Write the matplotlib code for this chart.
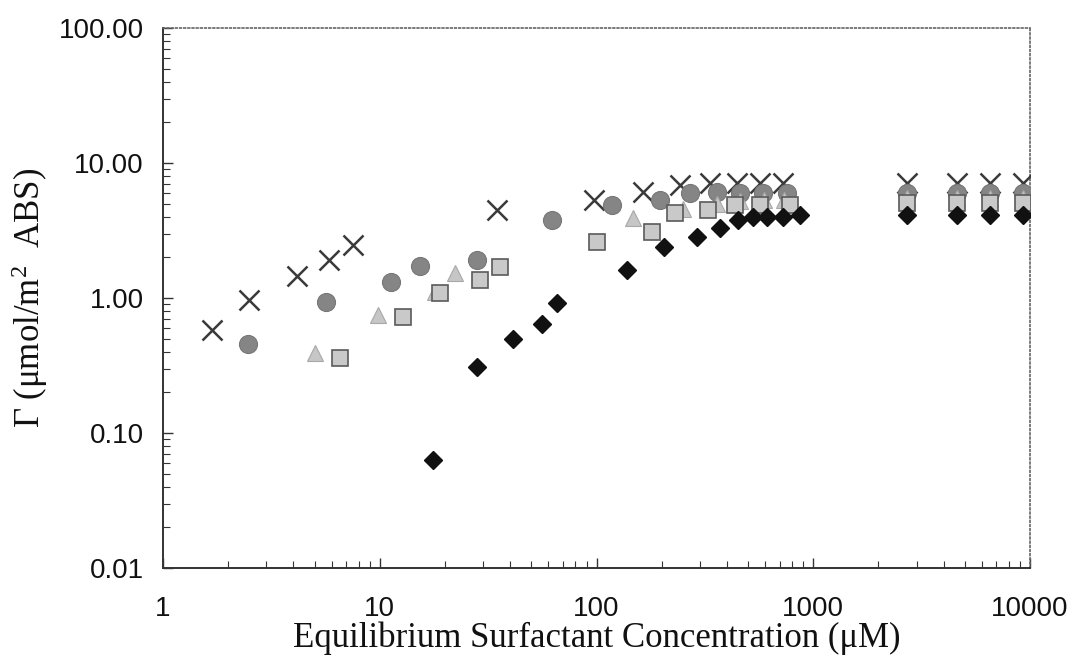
import matplotlib
matplotlib.use("Agg")
import matplotlib.pyplot as plt
from matplotlib.ticker import LogLocator, FixedLocator, NullFormatter, FixedFormatter

plt.rcParams["mathtext.fontset"] = "custom"
plt.rcParams["mathtext.rm"] = "Liberation Serif"
plt.rcParams["mathtext.it"] = "Liberation Serif:italic"

# ---- data ----
cross_x = [1.68, 2.49, 4.15, 5.84, 7.53, 34.8, 97, 164, 243, 334, 445, 569, 726, 2710, 4600, 6550, 9300]
cross_y = [0.58, 0.97, 1.46, 1.91, 2.47, 4.5, 5.3, 6.1, 6.9, 7.1, 7.1, 7.1, 7.1, 7.1, 7.1, 7.1, 7.1]

circle_x = [2.47, 5.65, 11.3, 15.3, 28.1, 62.4, 118, 197, 270, 360, 460, 587, 758, 2710, 4600, 6550, 9300]
circle_y = [0.46, 0.93, 1.31, 1.73, 1.91, 3.78, 4.9, 5.3, 6.0, 6.1, 6.0, 6.0, 6.0, 6.0, 6.0, 6.0, 6.0]

tri_x = [5.03, 9.82, 18.0, 22.3, 147, 250, 360, 460, 590, 730, 2710, 4600, 6550, 9300]
tri_y = [0.39, 0.75, 1.11, 1.53, 3.9, 4.6, 5.0, 5.2, 5.3, 5.3, 5.5, 5.5, 5.5, 5.5]

sq_x = [6.56, 12.8, 19.0, 29.0, 35.9, 100, 180, 230, 327, 435, 569, 780, 2710, 4600, 6550, 9300]
sq_y = [0.36, 0.72, 1.09, 1.36, 1.70, 2.6, 3.08, 4.26, 4.5, 4.9, 4.9, 4.9, 5.06, 5.06, 5.06, 5.06]

dia_x = [17.6, 28.1, 41.2, 56.1, 65.8, 138, 205, 291, 372, 450, 528, 612, 726, 870, 2710, 4600, 6550, 9300]
dia_y = [0.063, 0.31, 0.50, 0.64, 0.92, 1.61, 2.39, 2.83, 3.3, 3.78, 3.98, 3.98, 4.0, 4.1, 4.1, 4.1, 4.1, 4.1]

x_ticks = [1, 10, 100, 1000, 10000]
x_tick_labels = ["1", "10", "100", "1000", "10000"]
y_ticks = [0.01, 0.1, 1, 10, 100]
y_tick_labels = ["0.01", "0.10", "1.00", "10.00", "100.00"]

fig = plt.figure(figsize=(10.7, 6.63), dpi=100)
ax = fig.add_axes([163/1070, 1-568/663, (1030-163)/1070, (568-28)/663])

ax.plot(cross_x, cross_y, linestyle="none", marker="x", markersize=14,
        markeredgewidth=1.8, color="#3a3a3a", zorder=3)
ax.plot(circle_x, circle_y, linestyle="none", marker="o", markersize=13,
        markerfacecolor="#858585", markeredgecolor="#777777", markeredgewidth=0.8, zorder=4)
ax.plot(tri_x, tri_y, linestyle="none", marker="^", markersize=12,
        markerfacecolor="#c6c6c6", markeredgecolor="#a8a8a8", markeredgewidth=0.8, zorder=5)
ax.plot(sq_x, sq_y, linestyle="none", marker="s", markersize=11.5,
        markerfacecolor="#c9c9c9", markeredgecolor="#5a5a5a", markeredgewidth=1.2, zorder=6)
ax.plot(dia_x, dia_y, linestyle="none", marker="D", markersize=9.5,
        color="#111111", zorder=7)

ax.set_xscale("log")
ax.set_yscale("log")
ax.set_xlim(1, 10000)
ax.set_ylim(0.01, 100)

ax.xaxis.set_major_locator(FixedLocator(x_ticks))
ax.xaxis.set_major_formatter(FixedFormatter(x_tick_labels))
ax.yaxis.set_major_locator(FixedLocator(y_ticks))
ax.yaxis.set_major_formatter(FixedFormatter(y_tick_labels))
ax.xaxis.set_minor_locator(LogLocator(base=10, subs=range(2, 10)))
ax.yaxis.set_minor_locator(LogLocator(base=10, subs=range(2, 10)))
ax.xaxis.set_minor_formatter(NullFormatter())
ax.yaxis.set_minor_formatter(NullFormatter())

tickfont = ["Liberation Sans", "DejaVu Sans"]
ax.tick_params(axis="both", which="both", direction="in", color="#333333",
               top=False, right=False)
ax.tick_params(axis="both", which="major", length=7, width=1.0)
ax.tick_params(axis="both", which="minor", length=5, width=0.8)
ax.tick_params(axis="y", which="major", pad=14, labelsize=20)
ax.tick_params(axis="x", which="major", pad=20, labelsize=20)
for lab in ax.get_xticklabels() + ax.get_yticklabels():
    lab.set_family(tickfont)
    lab.set_color("#111111")

for side in ["left", "bottom"]:
    ax.spines[side].set_color("#333333")
    ax.spines[side].set_linewidth(1.4)
for side in ["top", "right"]:
    ax.spines[side].set_color("#666666")
    ax.spines[side].set_linewidth(1.2)
    ax.spines[side].set_linestyle((0, (1, 1.5)))

labfont = ["Liberation Serif", "DejaVu Serif"]
ax.set_xlabel("Equilibrium Surfactant Concentration (\u03bcM)", family=labfont,
              fontsize=25, labelpad=0, color="#111111")
ax.set_ylabel("\u0393 (\u03bcmol/m$^2$  ABS)", family=labfont, fontsize=25,
              labelpad=6, color="#111111")

fig.savefig("out.png", dpi=100)
